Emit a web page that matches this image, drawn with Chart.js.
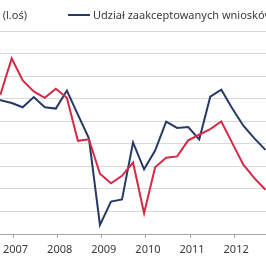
<!DOCTYPE html>
<html><head><meta charset="utf-8">
<script src="https://cdn.jsdelivr.net/npm/chart.js@4"></script>
<style>
html,body{margin:0;padding:0;background:#fff;overflow:hidden;width:266px;height:266px;}
#wrap{position:absolute;left:-60px;top:0;width:400px;height:266px;}
</style></head>
<body><div id="wrap"><canvas id="c" width="400" height="266"></canvas></div>
<script>
const quarters = ['2006-06','2006-09','2006-12','2007-03','2007-06','2007-09','2007-12','2008-03','2008-06','2008-09','2008-12','2009-03','2009-06','2009-09','2009-12','2010-03','2010-06','2010-09','2010-12','2011-03','2011-06','2011-09','2011-12','2012-03','2012-06','2012-09'];
const seriesLeft = [66.7,62.2,77.8,68.1,63.2,60.4,64.4,60.4,41.3,42.0,26.7,22.5,25.8,31.7,9.2,29.6,33.8,34.4,41.5,44.0,46.5,49.9,40.3,30.7,24.8,19.6];
const seriesRight = [59.6,59.3,58.1,56.2,60.7,56.2,55.6,63.6,52.9,42.4,4.0,14.4,15.3,40.6,28.7,37.0,49.8,47.0,47.4,41.9,60.9,64.0,55.6,48.0,42.4,37.3];
const yearLabels = ['2006','2007','2008','2009','2010','2011','2012','2013','2014'];
const seriesNames = ['Liczba udzielonych kredytów (l.oś)','Udział zaakceptowanych wniosków (p.oś)'];

const toX = q => { const [y,m] = q.split('-').map(Number); return y + (m - 0.5) / 12; };
const pts = arr => arr.map((v,i) => ({x: toX(quarters[i]), y: v}));

const legendPlugin = {
  id: 'customLegend',
  afterDraw(chart) {
    const ctx = chart.ctx;
    ctx.save();
    ctx.font = '11px "Noto Sans"';
    ctx.fillStyle = '#3a3a3a';
    ctx.textBaseline = 'middle';
    const y = 15.5;
    ctx.textAlign = 'right';
    ctx.fillText(seriesNames[0], 87, y);
    const w0 = ctx.measureText(seriesNames[0]).width;
    ctx.strokeStyle = '#d42a45'; ctx.lineWidth = 2;
    ctx.beginPath(); ctx.moveTo(87 - w0 - 25, 15); ctx.lineTo(87 - w0 - 3, 15); ctx.stroke();
    ctx.strokeStyle = '#263a66';
    ctx.beginPath(); ctx.moveTo(128, 15); ctx.lineTo(150, 15); ctx.stroke();
    ctx.textAlign = 'left';
    ctx.fillText(seriesNames[1], 153, y);
    ctx.restore();
  }
};

new Chart(document.getElementById('c'), {
  type: 'line',
  data: {
    datasets: [
      {label: seriesNames[0], data: pts(seriesLeft), borderColor: '#d42a45', borderWidth: 2, pointRadius: 0, tension: 0, fill: false},
      {label: seriesNames[1], data: pts(seriesRight), borderColor: '#263a66', borderWidth: 2, pointRadius: 0, tension: 0, fill: false}
    ]
  },
  options: {
    responsive: false, animation: false, devicePixelRatio: 1,
    layout: {padding: {top: 31, left: 0, right: 0, bottom: 0}},
    plugins: {legend: {display: false}, tooltip: {enabled: false}},
    scales: {
      x: {
        type: 'linear', min: 2005.3333, max: 2014.1053,
        afterFit: s => { s.height = 32; },
        border: {display: true, color: '#a6a6a6', width: 1},
        grid: {drawOnChartArea: false, drawTicks: true, tickLength: 4, color: '#a6a6a6'},
        ticks: {stepSize: 1, includeBounds: false, autoSkip: false, maxRotation: 0, padding: 5, labelOffset: 2,
          color: '#3a3a3a', font: {family: 'Noto Sans', size: 11},
          callback: v => yearLabels[Math.round(v) - 2006] || ''}
      },
      y: {
        min: 0, max: 90,
        afterFit: s => { s.width = 0; },
        border: {display: false},
        grid: {color: '#d9d9d9', drawTicks: false},
        ticks: {display: false, stepSize: 10}
      }
    }
  },
  plugins: [legendPlugin]
});
</script></body></html>
